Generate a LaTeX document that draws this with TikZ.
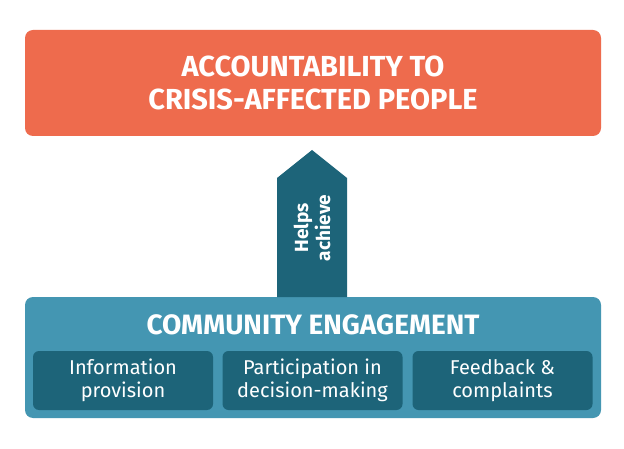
\documentclass[tikz,border=0pt]{standalone}
\usepackage{fontspec}
\setmainfont{Fira Sans}
\begin{document}
\begin{tikzpicture}[x=1pt,y=-1pt,
  topbox/.style={fill=orangeA,rounded corners=8pt,draw=none},
  basebox/.style={fill=tealA,rounded corners=8pt,draw=none},
  subbox/.style={fill=tealB,rounded corners=6pt,draw=none,minimum width=180pt,minimum height=59pt,text=white,font=\fontsize{20}{23}\selectfont,align=center}]
\definecolor{orangeA}{HTML}{EE6B4D}
\definecolor{tealA}{HTML}{4496B2}
\definecolor{tealB}{HTML}{1D6479}
\useasboundingbox (0,0) rectangle (624,449);
\fill[white] (0,0) rectangle (624,449);
\node[topbox,minimum width=576pt,minimum height=106pt,draw=none] (top) at (313,83) {};
\node[text=white,align=center,font=\bfseries\fontsize{29}{33}\selectfont] (toptxt) at (313,83) {ACCOUNTABILITY TO\\CRISIS-AFFECTED PEOPLE};
\node[basebox,minimum width=576pt,minimum height=121pt] (base) at (313,357.5) {};
\node[text=white,font=\bfseries\fontsize{28}{30}\selectfont] (title) at (313,325) {COMMUNITY ENGAGEMENT};
\node[subbox] (s1) at (123,380.5) {Information\\provision};
\node[subbox] (s2) at (312.5,380.5) {Participation in\\decision-making};
\node[subbox] (s3) at (502.5,380.5) {Feedback \&\\complaints};
\fill[tealB] (277,297) -- (277,178) -- (312,150) -- (347,178) -- (347,297) -- cycle;
\node[rotate=90,text=white,align=center,font=\bfseries\fontsize{19}{22}\selectfont] (lbl) at (312,228) {Helps\\achieve};
\end{tikzpicture}
\end{document}
